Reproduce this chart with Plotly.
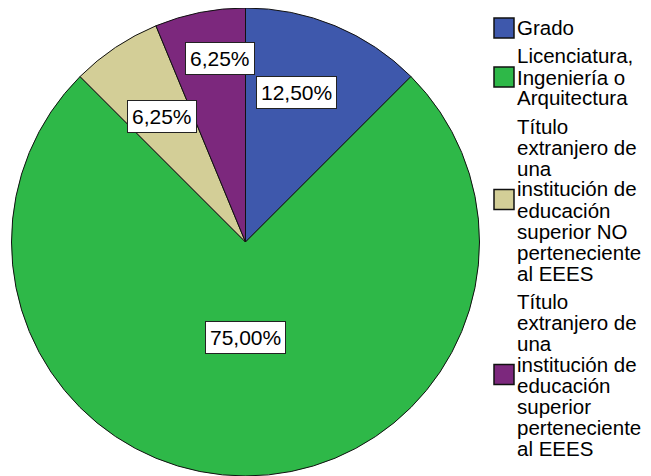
import math
import plotly.graph_objects as go

# ---- data ----
categories = [
    "Grado",
    "Licenciatura, Ingeniería o Arquitectura",
    "Título extranjero de una institución de educación superior NO perteneciente al EEES",
    "Título extranjero de una institución de educación superior perteneciente al EEES",
]
percentages = [12.50, 75.00, 6.25, 6.25]
value_labels = ["12,50%", "75,00%", "6,25%", "6,25%"]
legend_lines = [
    ["Grado"],
    ["Licenciatura,", "Ingeniería o", "Arquitectura"],
    ["Título", "extranjero de", "una", "institución de", "educación", "superior NO", "perteneciente", "al EEES"],
    ["Título", "extranjero de", "una", "institución de", "educación", "superior", "perteneciente", "al EEES"],
]
colors = ["#3E58AC", "#2EB848", "#D3CE97", "#7C287D"]

# ---- layout / styling ----
OFF = 8                          # body margin of the html page
W, H = 651 - OFF, 476 - OFF      # figure size so it fits the window
FONT = "Arial, Liberation Sans, sans-serif"
FS = 21
LFS = 20.5
cx, cy, R = 245.5, 242.0, 234.0           # pie centre & radius in window pixels
label_rfrac = [0.675, 0.41, 0.645, 0.79]  # radial placement of value boxes
label_dang = [-3.6, 0.0, 0.0, 3.3]        # small angular nudges (deg)


def px2paper(x, y):
    return (x - OFF) / W, 1 - (y - OFF) / H


fig = go.Figure()
dx0, dy1 = px2paper(cx - R, cy - R)
dx1, dy0 = px2paper(cx + R, cy + R)
fig.add_trace(go.Pie(
    labels=categories,
    values=percentages,
    sort=False,
    direction="clockwise",
    rotation=0,
    marker=dict(colors=colors, line=dict(color="#111111", width=1)),
    textinfo="none",
    hoverinfo="label+percent",
    showlegend=False,
    domain=dict(x=[dx0, dx1], y=[max(dy0, 0), min(dy1, 1)]),
))

annotations = []
shapes = []

# value boxes, placed at the slice mid-angles derived from the data
total = sum(percentages)
cum = 0.0
for i, v in enumerate(percentages):
    mid = (cum + v / 2) / total * 360 + label_dang[i]
    cum += v
    a = math.radians(mid)
    r = label_rfrac[i] * R
    x = cx + r * math.sin(a)
    y = cy - r * math.cos(a)
    px, py = px2paper(x, y)
    annotations.append(dict(
        x=px, y=py, xref="paper", yref="paper", text=value_labels[i],
        showarrow=False, font=dict(family=FONT, size=FS, color="black"),
        bgcolor="white", bordercolor="#222222", borderwidth=1, borderpad=4,
        xanchor="center", yanchor="middle",
    ))

# manual legend (tight line spacing as in the reference)
line_step = 21
group_gap = 28
sq = 20
sq_x0 = 494
text_x = 515
y = 28
for gi, lines in enumerate(legend_lines):
    ys = []
    for t in lines:
        ys.append(y)
        px, py = px2paper(text_x, y)
        annotations.append(dict(
            x=px, y=py, xref="paper", yref="paper", text=t, showarrow=False,
            font=dict(family=FONT, size=LFS, color="black"),
            xanchor="left", yanchor="middle",
        ))
        y += line_step
    y += group_gap - line_step
    yc = sum(ys) / len(ys)
    x0, y0 = px2paper(sq_x0, yc - sq / 2)
    x1, y1 = px2paper(sq_x0 + sq, yc + sq / 2)
    shapes.append(dict(
        type="rect", xref="paper", yref="paper", x0=x0, x1=x1, y0=y1, y1=y0,
        fillcolor=colors[gi], line=dict(color="#111111", width=1.5),
    ))

fig.update_layout(
    width=W, height=H,
    margin=dict(l=0, r=0, t=0, b=0),
    paper_bgcolor="white", plot_bgcolor="white",
    annotations=annotations, shapes=shapes,
    showlegend=False,
)

fig.write_html("out.html")
